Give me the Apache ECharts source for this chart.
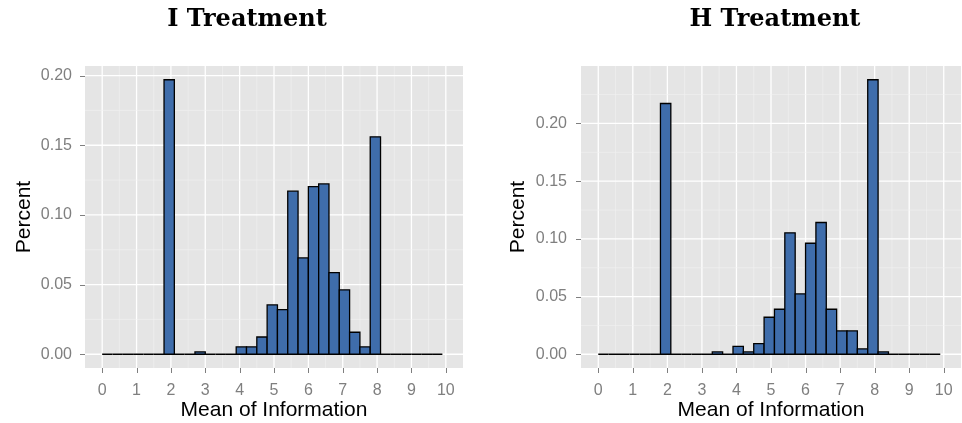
<!DOCTYPE html>
<html>
<head>
<meta charset="utf-8">
<script src="https://cdn.jsdelivr.net/npm/echarts@6/dist/echarts.min.js"></script>
<style>
  html, body { margin: 0; padding: 0; background: #ffffff; }
  #chart { width: 962px; height: 423px; }
</style>
</head>
<body>
<div id="chart"></div>
<script>
// Histogram bins (left edges), each 0.3 wide
const binLefts = [0.0, 0.3, 0.6, 0.9, 1.2, 1.5, 1.8, 2.1, 2.4, 2.7, 3.0,
                  3.3, 3.6, 3.9, 4.2, 4.5, 4.8, 5.1, 5.4, 5.7, 6.0, 6.3,
                  6.6, 6.9, 7.2, 7.5, 7.8, 8.1, 8.4, 8.7, 9.0, 9.3, 9.6];
const binWidth = 0.3;

// Share of subjects per bin
const iTreatment = [0, 0, 0, 0, 0, 0, 0.197, 0, 0, 0.0017, 0,
                    0, 0, 0.0053, 0.0053, 0.0124, 0.0354, 0.0321, 0.117, 0.0691, 0.1203, 0.1222,
                    0.0586, 0.0462, 0.0158, 0.0053, 0.156, 0, 0, 0, 0, 0, 0];
const hTreatment = [0, 0, 0, 0, 0, 0, 0.2173, 0, 0, 0, 0,
                    0.002, 0, 0.0069, 0.002, 0.0092, 0.0321, 0.039, 0.1052, 0.0523, 0.0962, 0.1142,
                    0.039, 0.0202, 0.0202, 0.0046, 0.2379, 0.002, 0, 0, 0, 0, 0];

const panelTitles = ['I Treatment', 'H Treatment'];
const xTicks = [0, 1, 2, 3, 4, 5, 6, 7, 8, 9, 10];
const xMinorBreaks = [0.5, 1.5, 2.5, 3.5, 4.5, 5.5, 6.5, 7.5, 8.5, 9.5];
const yTicks = [0, 0.05, 0.10, 0.15, 0.20];
const yMinorBreaks = [0.025, 0.075, 0.125, 0.175, 0.225];

const BAR_FILL = '#3f6dab';
const PANEL_BG = '#e5e5e5';
const TICK_GREY = '#7f7f7f';
const TICK_LEN = 5;
const SANS = '"Liberation Sans", Arial, Helvetica, sans-serif';

const X_MIN = -0.5, X_MAX = 10.5;

// ggplot-style 5% expansion of the value range
function yExtent(values) {
  const m = Math.max.apply(null, values);
  return [-m * 0.05, m * 1.05];
}

function renderBar(params, api) {
  const top = api.coord([api.value(0), api.value(2)]);
  const base = api.coord([api.value(1), 0]);
  return {
    type: 'rect',
    shape: { x: top[0], y: top[1], width: base[0] - top[0], height: base[1] - top[1] },
    style: { fill: BAR_FILL, stroke: '#000000', lineWidth: 1.3 }
  };
}

function gridStyle(major) {
  return major ? { stroke: '#ffffff', lineWidth: 1.3 } : { stroke: '#f2f2f2', lineWidth: 0.6 };
}

// panel grid lines; breaks are [value, isMajor]
function verticalLines(breaks) {
  return function (params, api) {
    const cs = params.coordSys;
    const x = api.coord([breaks[params.dataIndex][0], 0])[0];
    return { type: 'line', shape: { x1: x, y1: cs.y, x2: x, y2: cs.y + cs.height },
             style: gridStyle(breaks[params.dataIndex][1] === 1) };
  };
}
function horizontalLines(breaks) {
  return function (params, api) {
    const cs = params.coordSys;
    const y = api.coord([0, breaks[params.dataIndex][0]])[1];
    return { type: 'line', shape: { x1: cs.x, y1: y, x2: cs.x + cs.width, y2: y },
             style: gridStyle(breaks[params.dataIndex][1] === 1) };
  };
}

const datasets = [iTreatment, hTreatment];
const extents = datasets.map(yExtent);
const grids = [
  { left: 85, right: 499, top: 66, bottom: 55 },
  { left: 581, right: 1, top: 66, bottom: 55 }
];
const yLabelMargin = [13, 14];
const yNameGap = [50, 52];
const titleX = [247, 775];

const xAxes = [], yAxes = [], series = [], titleGraphics = [];

datasets.forEach(function (vals, k) {
  const ext = extents[k];
  xAxes.push({
    gridIndex: k, type: 'value', min: X_MIN, max: X_MAX,
    splitLine: { show: false }, axisLine: { show: false, onZero: false }, axisTick: { show: false },
    axisLabel: { customValues: xTicks, color: TICK_GREY, fontSize: 16, fontFamily: SANS, margin: 15 },
    name: 'Mean of Information', nameLocation: 'middle', nameGap: 32, nameMoveOverlap: false,
    nameTextStyle: { color: '#000000', fontSize: 21, fontFamily: SANS }
  });
  yAxes.push({
    gridIndex: k, type: 'value', min: ext[0], max: ext[1],
    splitLine: { show: false }, axisLine: { show: false, onZero: false }, axisTick: { show: false },
    axisLabel: { customValues: yTicks, color: TICK_GREY, fontSize: 16, fontFamily: SANS,
                 margin: yLabelMargin[k], formatter: function (v) { return v.toFixed(2); } },
    name: 'Percent', nameLocation: 'middle', nameGap: yNameGap[k], nameRotate: 90, nameMoveOverlap: false,
    nameTextStyle: { color: '#000000', fontSize: 21, fontFamily: SANS }
  });

  const vBreaks = xMinorBreaks.map(function (v) { return [v, 0]; })
    .concat(xTicks.map(function (v) { return [v, 1]; }));
  const hBreaks = yMinorBreaks.map(function (v) { return [v, 0]; })
    .concat(yTicks.map(function (v) { return [v, 1]; }))
    .filter(function (d) { return d[0] > ext[0] && d[0] < ext[1]; });

  series.push({
    type: 'custom', xAxisIndex: k, yAxisIndex: k, z: 1, silent: true,
    renderItem: verticalLines(vBreaks), encode: { x: 0, y: 1 },
    data: vBreaks.map(function (d) { return [d[0], 0]; })
  });
  series.push({
    type: 'custom', xAxisIndex: k, yAxisIndex: k, z: 1, silent: true,
    renderItem: horizontalLines(hBreaks), encode: { x: 0, y: 1 },
    data: hBreaks.map(function (d) { return [0, d[0]]; })
  });
  series.push({
    type: 'custom', xAxisIndex: k, yAxisIndex: k, z: 2,
    renderItem: renderBar, encode: { x: [0, 1], y: 2 },
    data: binLefts.map(function (l, i) { return [l, l + binWidth, vals[i]]; })
  });

  titleGraphics.push({
    type: 'text', x: titleX[k], y: 20,
    style: { text: panelTitles[k], font: 'bold 24px "DejaVu Serif", serif',
             fill: '#000000', align: 'center', verticalAlign: 'middle' }
  });
});

const chart = echarts.init(document.getElementById('chart'), null, { renderer: 'canvas' });
chart.setOption({
  animation: false,
  backgroundColor: '#ffffff',
  grid: grids.map(function (g) {
    return Object.assign({ show: true, backgroundColor: PANEL_BG, borderWidth: 0,
                           containLabel: false, outerBoundsMode: 'none' }, g);
  }),
  xAxis: xAxes,
  yAxis: yAxes,
  series: series,
  graphic: titleGraphics
});

// Outward tick marks at the labelled breaks, placed through each panel's scales
const tickGraphics = titleGraphics.slice();
datasets.forEach(function (vals, k) {
  const finder = { gridIndex: k };
  const ext = extents[k];
  const corner = chart.convertToPixel(finder, [X_MIN, ext[0]]);
  const left = corner[0], bottom = corner[1];
  const tickStyle = { stroke: TICK_GREY, lineWidth: 1 };
  xTicks.forEach(function (v) {
    const x = Math.round(chart.convertToPixel(finder, [v, 0])[0]) + 0.5;
    tickGraphics.push({ type: 'line', z: 10, silent: true,
      shape: { x1: x, y1: bottom, x2: x, y2: bottom + TICK_LEN }, style: tickStyle });
  });
  yTicks.forEach(function (v) {
    const y = Math.round(chart.convertToPixel(finder, [0, v])[1]) + 0.5;
    tickGraphics.push({ type: 'line', z: 10, silent: true,
      shape: { x1: left - TICK_LEN, y1: y, x2: left, y2: y }, style: tickStyle });
  });
});
chart.setOption({ graphic: tickGraphics });
</script>
</body>
</html>
